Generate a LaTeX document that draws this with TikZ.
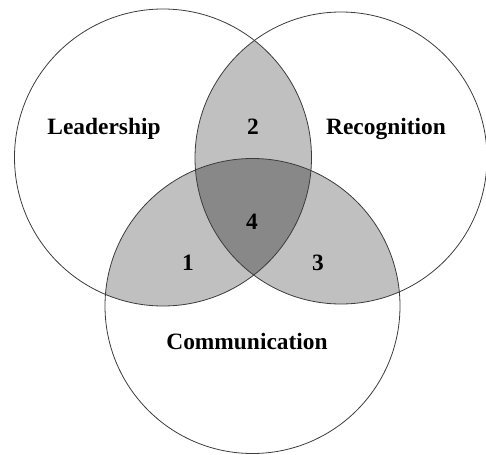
\documentclass[tikz,border=0pt]{standalone}
\usepackage{fontspec}
\setmainfont{Liberation Serif}
\usepackage{tikz}

\definecolor{lightshade}{RGB}{192,192,192}
\definecolor{darkshade}{RGB}{136,136,136}
\definecolor{rim}{RGB}{60,60,60}

\begin{document}
\begin{tikzpicture}[x=1pt, y=-1pt,
  ring/.style = {draw=rim, line width=0.8pt},
  every node/.style = {font=\fontsize{23.4}{28}\selectfont\bfseries, inner sep=0pt}]
  \useasboundingbox (0,0) rectangle (486,454);
  \coordinate (lead) at (163,157.5);
  \coordinate (recog) at (341,158);
  \coordinate (comm) at (252.5,306);
  % pairwise overlaps
  \begin{scope}
    \clip (lead) circle[radius=148.5];
    \fill[lightshade] (recog) circle[radius=146];
    \fill[lightshade] (comm) circle[radius=147.5];
  \end{scope}
  \begin{scope}
    \clip (recog) circle[radius=146];
    \fill[lightshade] (comm) circle[radius=147.5];
  \end{scope}
  % centre, all three
  \begin{scope}
    \clip (lead) circle[radius=148.5];
    \clip (recog) circle[radius=146];
    \fill[darkshade] (comm) circle[radius=147.5];
  \end{scope}
  \draw[ring] (lead) circle[radius=148.5];
  \draw[ring] (recog) circle[radius=146];
  \draw[ring] (comm) circle[radius=147.5];
  % labels
  \node[anchor=base] (leadership) at (104,135) {Leadership};
  \node[anchor=base] (recognition) at (386,135) {Recognition};
  \node[anchor=base] (communication) at (247,349) {Communication};
  \node[anchor=base] (two) at (253,135) {2};
  \node[anchor=base] (four) at (252,229) {4};
  \node[anchor=base] (one) at (188,270) {1};
  \node[anchor=base] (three) at (318,270) {3};
\end{tikzpicture}
\end{document}
